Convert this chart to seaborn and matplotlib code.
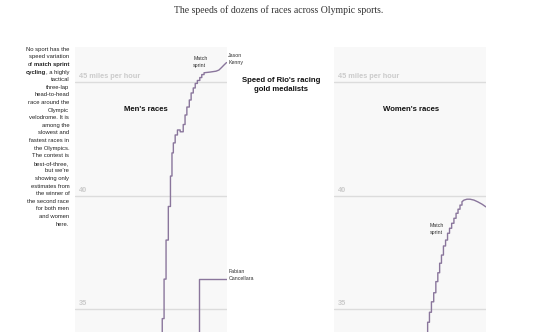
import numpy as np
import pandas as pd
import matplotlib
matplotlib.use("Agg")
import matplotlib.pyplot as plt
import seaborn as sns

# ---------------- data ----------------
# x: position of race within the panel (0-100), speed in mph (vertices of step curves)
men_x = [57.4, 57.4, 58.6, 58.6, 59.9, 59.9, 61.4, 61.4, 62.8, 62.8, 63.8, 63.8,
         64.7, 64.7, 65.9, 65.9, 67.4, 67.4, 69.2, 69.2, 71.2, 71.2, 72.4, 72.4,
         73.6, 73.6, 75.2, 75.2, 76.4, 76.4, 77.8, 77.8, 79.1, 79.1, 80.5, 80.5,
         82.1, 82.1, 83.4, 83.4, 84.9, 84.9, 88.8, 92.8, 94.7, 96.4, 98.0, 99.7]
men_speed = [33.8, 34.59, 34.59, 36.33, 36.33, 38.05, 38.05, 39.53, 39.53, 40.87, 40.87, 41.89,
             41.89, 42.33, 42.33, 42.68, 42.68, 42.90, 42.90, 42.82, 42.82, 43.14, 43.14, 43.56,
             43.56, 43.91, 43.91, 44.22, 44.22, 44.53, 44.53, 44.75, 44.75, 44.95, 44.95, 45.08,
             45.08, 45.21, 45.21, 45.34, 45.34, 45.42, 45.45, 45.49, 45.54, 45.65, 45.76, 45.87]

cancellara_x = [81.6, 81.6, 100.0]
cancellara_speed = [33.8, 36.33, 36.33]

women_x = [61.6, 61.6, 62.8, 62.8, 64.1, 64.1, 65.6, 65.6, 67.0, 67.0, 68.3, 68.3,
           69.5, 69.5, 70.7, 70.7, 72.0, 72.0, 73.4, 73.4, 74.7, 74.7, 76.0, 76.0,
           77.4, 77.4, 78.9, 78.9, 80.3, 80.3, 81.6, 81.6, 82.9, 82.9, 84.2, 84.2,
           85.5, 87.5, 89.5, 92.1, 94.7, 97.4, 100.0]
women_speed = [33.8, 34.43, 34.43, 34.87, 34.87, 35.33, 35.33, 35.73, 35.73, 36.22, 36.22, 36.61,
               36.61, 37.03, 37.03, 37.39, 37.39, 37.79, 37.79, 38.05, 38.05, 38.35, 38.35, 38.57,
               38.57, 38.79, 38.79, 39.01, 39.01, 39.23, 39.23, 39.41, 39.41, 39.59, 39.59, 39.74,
               39.81, 39.85, 39.85, 39.81, 39.73, 39.63, 39.51]

grid_speeds = [35, 40, 45]
grid_labels = ["35", "40", "45 miles per hour"]
panel_titles = ["Men's races", "Women's races"]

title = "The speeds of dozens of races across Olympic sports."
center_title = ["Speed of Rio's racing", "gold medalists"]
sidebar_lines = ["No sport has the", "speed variation", "of |match sprint", "cycling|, a highly",
                 "tactical", "three-lap", "head-to-head", "race around the", "Olympic",
                 "velodrome. It is", "among the", "slowest and", "fastest races in",
                 "the Olympics.", "The contest is", "best-of-three,", "but we\u2019re",
                 "showing only", "estimates from", "the winner of", "the second race",
                 "for both men", "and women", "here."]

# ---------------- style ----------------
sns.set_theme(style="white")
plt.rcParams["font.family"] = ["Liberation Sans", "DejaVu Sans"]

LINE = "#8a769c"
BG = "#f8f8f8"
GRID = "#dcdcdc"
LABEL_GREY = "#cbcbcb"

W, H = 550, 332
fig = plt.figure(figsize=(W / 100, H / 100), dpi=100)
fig.patch.set_facecolor("white")

def fx(px):
    return px / W

def fy(py):
    return 1 - py / H

ylo, yhi = 34.0, 46.555
top_px = 47
axes = []
for left_px in (75, 334):
    ax = fig.add_axes([fx(left_px), 0, 152 / W, (H - top_px) / H])
    ax.set_facecolor(BG)
    ax.set_xlim(0, 100)
    ax.set_ylim(ylo, yhi)
    for s in ax.spines.values():
        s.set_visible(False)
    ax.set_xticks([])
    ax.set_yticks(grid_speeds)
    ax.set_yticklabels([])
    ax.tick_params(length=0)
    ax.yaxis.grid(True, color=GRID, linewidth=1.0)
    ax.set_axisbelow(True)
    axes.append(ax)

ax_m, ax_w = axes

men_df = pd.DataFrame({"x": men_x, "speed": men_speed})
can_df = pd.DataFrame({"x": cancellara_x, "speed": cancellara_speed})
women_df = pd.DataFrame({"x": women_x, "speed": women_speed})

sns.lineplot(data=men_df, x="x", y="speed", sort=False, estimator=None,
             color=LINE, linewidth=1.0, ax=ax_m)
sns.lineplot(data=can_df, x="x", y="speed", sort=False, estimator=None,
             color=LINE, linewidth=1.0, ax=ax_m)
sns.lineplot(data=women_df, x="x", y="speed", sort=False, estimator=None,
             color=LINE, linewidth=1.0, ax=ax_w)
for ax in axes:
    ax.set_xlabel("")
    ax.set_ylabel("")

# grid labels
for ax in axes:
    for sp, lab in zip(grid_speeds, grid_labels):
        ax.text(2.8, sp + 0.1, lab, fontsize=5.3, fontweight="bold", color=LABEL_GREY,
                ha="left", va="bottom")

# panel titles
ax_m.text(46.7, 43.78, panel_titles[0], fontsize=5.6, fontweight="bold", color="#111111",
          ha="center", va="center")
ax_w.text(50.5, 43.78, panel_titles[1], fontsize=5.6, fontweight="bold", color="#111111",
          ha="center", va="center")

# annotations
small = dict(fontsize=3.8, color="#333333", ha="left", va="center", clip_on=False)
ax_m.text(77.8, 46.03, "Match", **small)
ax_m.text(77.8, 45.72, "sprint", **small)
ax_m.text(100.9, 46.2, "Jason", **small)
ax_m.text(100.9, 45.89, "Kenny", **small)
ax_m.text(101.3, 36.66, "Fabian", **small)
ax_m.text(101.3, 36.35, "Cancellara", **small)
ax_w.text(63.2, 38.71, "Match", **small)
ax_w.text(63.2, 38.38, "sprint", **small)

# center title
fig.text(fx(281), fy(80.7), center_title[0], fontsize=5.6, fontweight="bold",
         color="#111111", ha="center", va="center")
fig.text(fx(281), fy(89.3), center_title[1], fontsize=5.6, fontweight="bold",
         color="#111111", ha="center", va="center")

# main title
fig.text(fx(279), fy(10.5), title, fontsize=7.0, color="#333333", ha="center", va="center",
         family=["Liberation Serif", "DejaVu Serif"])

# sidebar with partial bold
renderer = fig.canvas.get_renderer()
right_px = 69.3
sfs = 4.2
for i, line in enumerate(sidebar_lines):
    y = fy(49.3 + i * 7.6)
    if "|" in line:
        a, b = line.split("|")
        if line.startswith("of"):
            parts = [(a.rstrip(), "normal"), (b, "bold")]
        else:
            parts = [(a, "bold"), (b, "normal")]
        x_right = fx(right_px)
        for j, (txt, wt) in enumerate(reversed(parts)):
            t = fig.text(x_right, y, txt, fontsize=sfs, fontweight=wt, color="#222222",
                         ha="right", va="center")
            bb = t.get_window_extent(renderer)
            x_right = bb.x0 / W
            if line.startswith("of") and j == 0:
                x_right -= 1.3 / W
    else:
        fig.text(fx(right_px), y, line, fontsize=sfs, color="#222222", ha="right", va="center")

fig.savefig("out.png", dpi=100)
